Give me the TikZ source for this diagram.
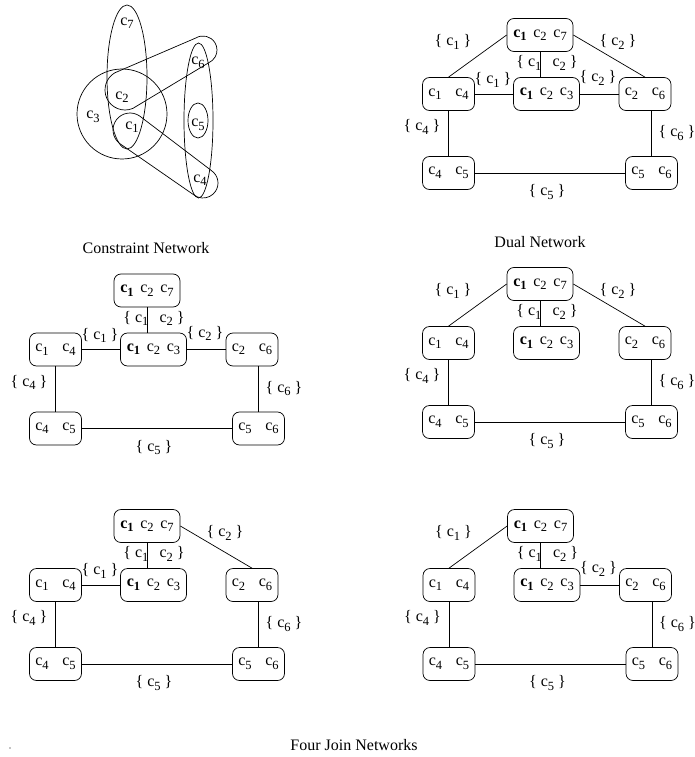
\documentclass[tikz,border=0pt]{standalone}
\usepackage{fontspec}
\setmainfont{Liberation Serif}
\usetikzlibrary{calc}

\newcommand{\sub}[1]{\raisebox{-3.5pt}{\fontsize{12.5}{12.5}\selectfont #1}}
\newcommand{\vc}[1]{c\sub{#1}}
\newcommand{\bvc}{\textbf{c\sub{1}}}

% nodes and edges shared by every network
\newcommand{\joinnet}{%
  \node[var3] (top) at (0,0) {\bvc\hspace{0.42em}\vc{2}\hspace{0.42em}\vc{7}};
  \node[var2] (c14) at (-91.5,-59) {\vc{1}\hspace{0.85em}\vc{4}};
  \node[var3] (c123) at (6.5,-59) {\bvc\hspace{0.42em}\vc{2}\hspace{0.42em}\vc{3}};
  \node[var2] (c26) at (105,-59) {\vc{2}\hspace{0.85em}\vc{6}};
  \node[var2] (c45) at (-91.5,-138) {\vc{4}\hspace{0.85em}\vc{5}};
  \node[var2] (c56) at (111.5,-138) {\vc{5}\hspace{0.85em}\vc{6}};
  \draw[link] (top.south) -- (top.south |- c123.north);
  \draw[link] (c14.south) -- (c45.north);
  \draw[link] (c26.south -| c56.north) -- (c56.north);
  \draw[link] (c45.east) -- (c56.west);
  \node[lbl] (s12) at (7,-28) {\{ \vc{1}\hspace{0.7em}\vc{2} \}};
  \node[lbl] (s4) at (-118,-92) {\{ \vc{4} \}};
  \node[lbl] (s6) at (137,-98) {\{ \vc{6} \}};
  \node[lbl] (s5) at (7,-157) {\{ \vc{5} \}};
}

\begin{document}
\begin{tikzpicture}[
  x=1pt, y=1pt,
  font=\fontsize{16}{19}\selectfont,
  line width=0.7pt,
  var2/.style={rectangle, rounded corners=7pt, draw, inner sep=1pt,
               minimum width=52pt, minimum height=33pt},
  var3/.style={var2, minimum width=66pt},
  lbl/.style={inner sep=0pt},
  link/.style={draw, line width=0.7pt}
]
  \useasboundingbox (0,0) rectangle (695,-757);

  % constraint network (hypergraph)
  \coordinate (h1) at (130,-130);
  \coordinate (h2) at (125,-90);
  \coordinate (h4) at (203,-183);
  \coordinate (h6) at (203,-50);
  \draw (127,-77) ellipse [x radius=20, y radius=72];
  \draw (122,-114) circle [radius=45];
  \draw (198.5,-120.5) ellipse [x radius=14.5, y radius=77.5];
  \draw (198,-120.5) ellipse [x radius=10, y radius=17.5];
  \draw ($(h2)+(121.07:20)$) -- ($(h6)+(121.07:14)$)
    arc[start angle=121.07, end angle=-66.77, radius=14]
    -- ($(h2)+(-66.77:20)$)
    arc[start angle=-66.77, end angle=-238.93, radius=20] -- cycle;
  \draw ($(h1)+(55.29:17)$) -- ($(h4)+(55.29:15)$)
    arc[start angle=55.29, end angle=-127.25, radius=15]
    -- ($(h1)+(-127.25:17)$)
    arc[start angle=-127.25, end angle=-304.71, radius=17] -- cycle;
  \node[lbl] (v7) at (127,-23) {\vc{7}};
  \node[lbl] (v3) at (93,-117) {\vc{3}};
  \node[lbl] (v2) at (122,-97) {\vc{2}};
  \node[lbl] (v1) at (132,-127) {\vc{1}};
  \node[lbl] (v6) at (198,-63) {\vc{6}};
  \node[lbl] (v5) at (198,-125) {\vc{5}};
  \node[lbl] (v4) at (200,-180) {\vc{4}};
  \node (capc) at (146,-248) {Constraint Network};

  % dual network
  \begin{scope}[shift={(540,-35)}]
    \joinnet
    \draw[link] (top.west) -- (c14.north);
    \draw[link] (top.east) -- (c26.north);
    \draw[link] (c14.east) -- (c123.west);
    \draw[link] (c123.east) -- (c26.west);
    \node[lbl] (d1) at (-87,-7) {\{ \vc{1} \}};
    \node[lbl] (d2) at (78,-7) {\{ \vc{2} \}};
    \node[lbl] (e1) at (-47,-45) {\{ \vc{1} \}};
    \node[lbl] (e2) at (58,-43) {\{ \vc{2} \}};
  \end{scope}
  \node (capd) at (540,-242) {Dual Network};

  % join networks
  \begin{scope}[shift={(147,-290.5)}]
    \joinnet
    \draw[link] (c14.east) -- (c123.west);
    \draw[link] (c123.east) -- (c26.west);
    \node[lbl] (e1) at (-47,-45) {\{ \vc{1} \}};
    \node[lbl] (e2) at (58,-43) {\{ \vc{2} \}};
  \end{scope}
  \begin{scope}[shift={(540,-284)}]
    \joinnet
    \draw[link] (top.west) -- (c14.north);
    \draw[link] (top.east) -- (c26.north);
    \node[lbl] (d1) at (-87,-7) {\{ \vc{1} \}};
    \node[lbl] (d2) at (78,-7) {\{ \vc{2} \}};
  \end{scope}
  \begin{scope}[shift={(147,-526)}]
    \joinnet
    \draw[link] (top.east) -- (c26.north);
    \draw[link] (c14.east) -- (c123.west);
    \node[lbl] (d2) at (78,-7) {\{ \vc{2} \}};
    \node[lbl] (e1) at (-47,-45) {\{ \vc{1} \}};
  \end{scope}
  \begin{scope}[shift={(540.5,-526)}]
    \joinnet
    \draw[link] (top.west) -- (c14.north);
    \draw[link] (c123.east) -- (c26.west);
    \node[lbl] (d1) at (-87,-7) {\{ \vc{1} \}};
    \node[lbl] (e2) at (58,-43) {\{ \vc{2} \}};
  \end{scope}
  \node (capj) at (354,-745) {Four Join Networks};
  \fill (10,-748) circle [radius=0.6];
\end{tikzpicture}
\end{document}
